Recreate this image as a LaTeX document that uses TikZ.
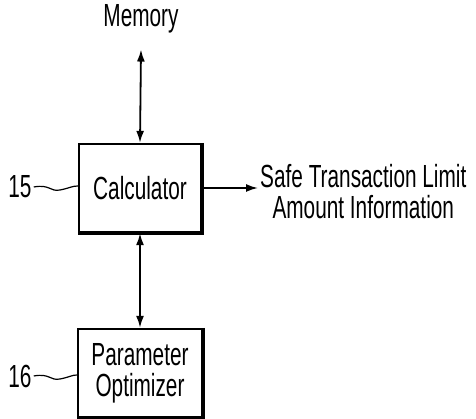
\documentclass[tikz,border=0pt]{standalone}
\usepackage{fontspec}
\newfontfamily\narrowsf{Liberation Sans}[FakeStretch=0.65]
\usetikzlibrary{arrows.meta,positioning,calc}

\begin{document}
\begin{tikzpicture}[x=1pt,y=-1pt,>={Latex[length=12pt,width=8pt]},
  txt/.style={font=\narrowsf\fontsize{32}{31}\selectfont,inner sep=2pt,align=center},
  box/.style={txt,draw,line width=2.4pt,minimum width=122pt,minimum height=88pt},
  link/.style={line width=1.8pt},
  lead/.style={line width=1.2pt}]
\useasboundingbox (0,0) rectangle (476,419);
\node[txt] (memory) at (141,19) {Memory};
\node[box] (calc) at (140,188) {Calculator};
\node[box,minimum width=124pt] (param) at (140,373) {Parameter\\Optimizer};
\node[txt,anchor=west] (safe) at (258,192) {Safe Transaction Limit\\Amount Information};
\node[txt] (n15) at (20,187) {15};
\node[txt] (n16) at (20,376) {16};
% heavier right and bottom edges
\foreach \b in {calc,param}
  \draw[line width=2.4pt] ($(\b.north east)+(0.8,0)$) -- ($(\b.south east)+(0.8,0.8)$) -- ($(\b.south west)+(0,0.8)$);
\draw[link,<->] ($(memory.south)+(0,14)$) -- (calc.north);
\draw[link,->] (calc.east) -- (calc.east -| safe.west);
\draw[link,<->] (calc.south) -- (param.north);
\draw[lead] (n15.east) .. controls (50,184) and (50,192) .. (60,190) .. controls (70,188) and (72,186) .. (calc.west |- 0,186);
\draw[lead] (n16.east) .. controls (50,373) and (50,381) .. (60,379) .. controls (70,377) and (72,375) .. (param.west |- 0,375);
\end{tikzpicture}
\end{document}
